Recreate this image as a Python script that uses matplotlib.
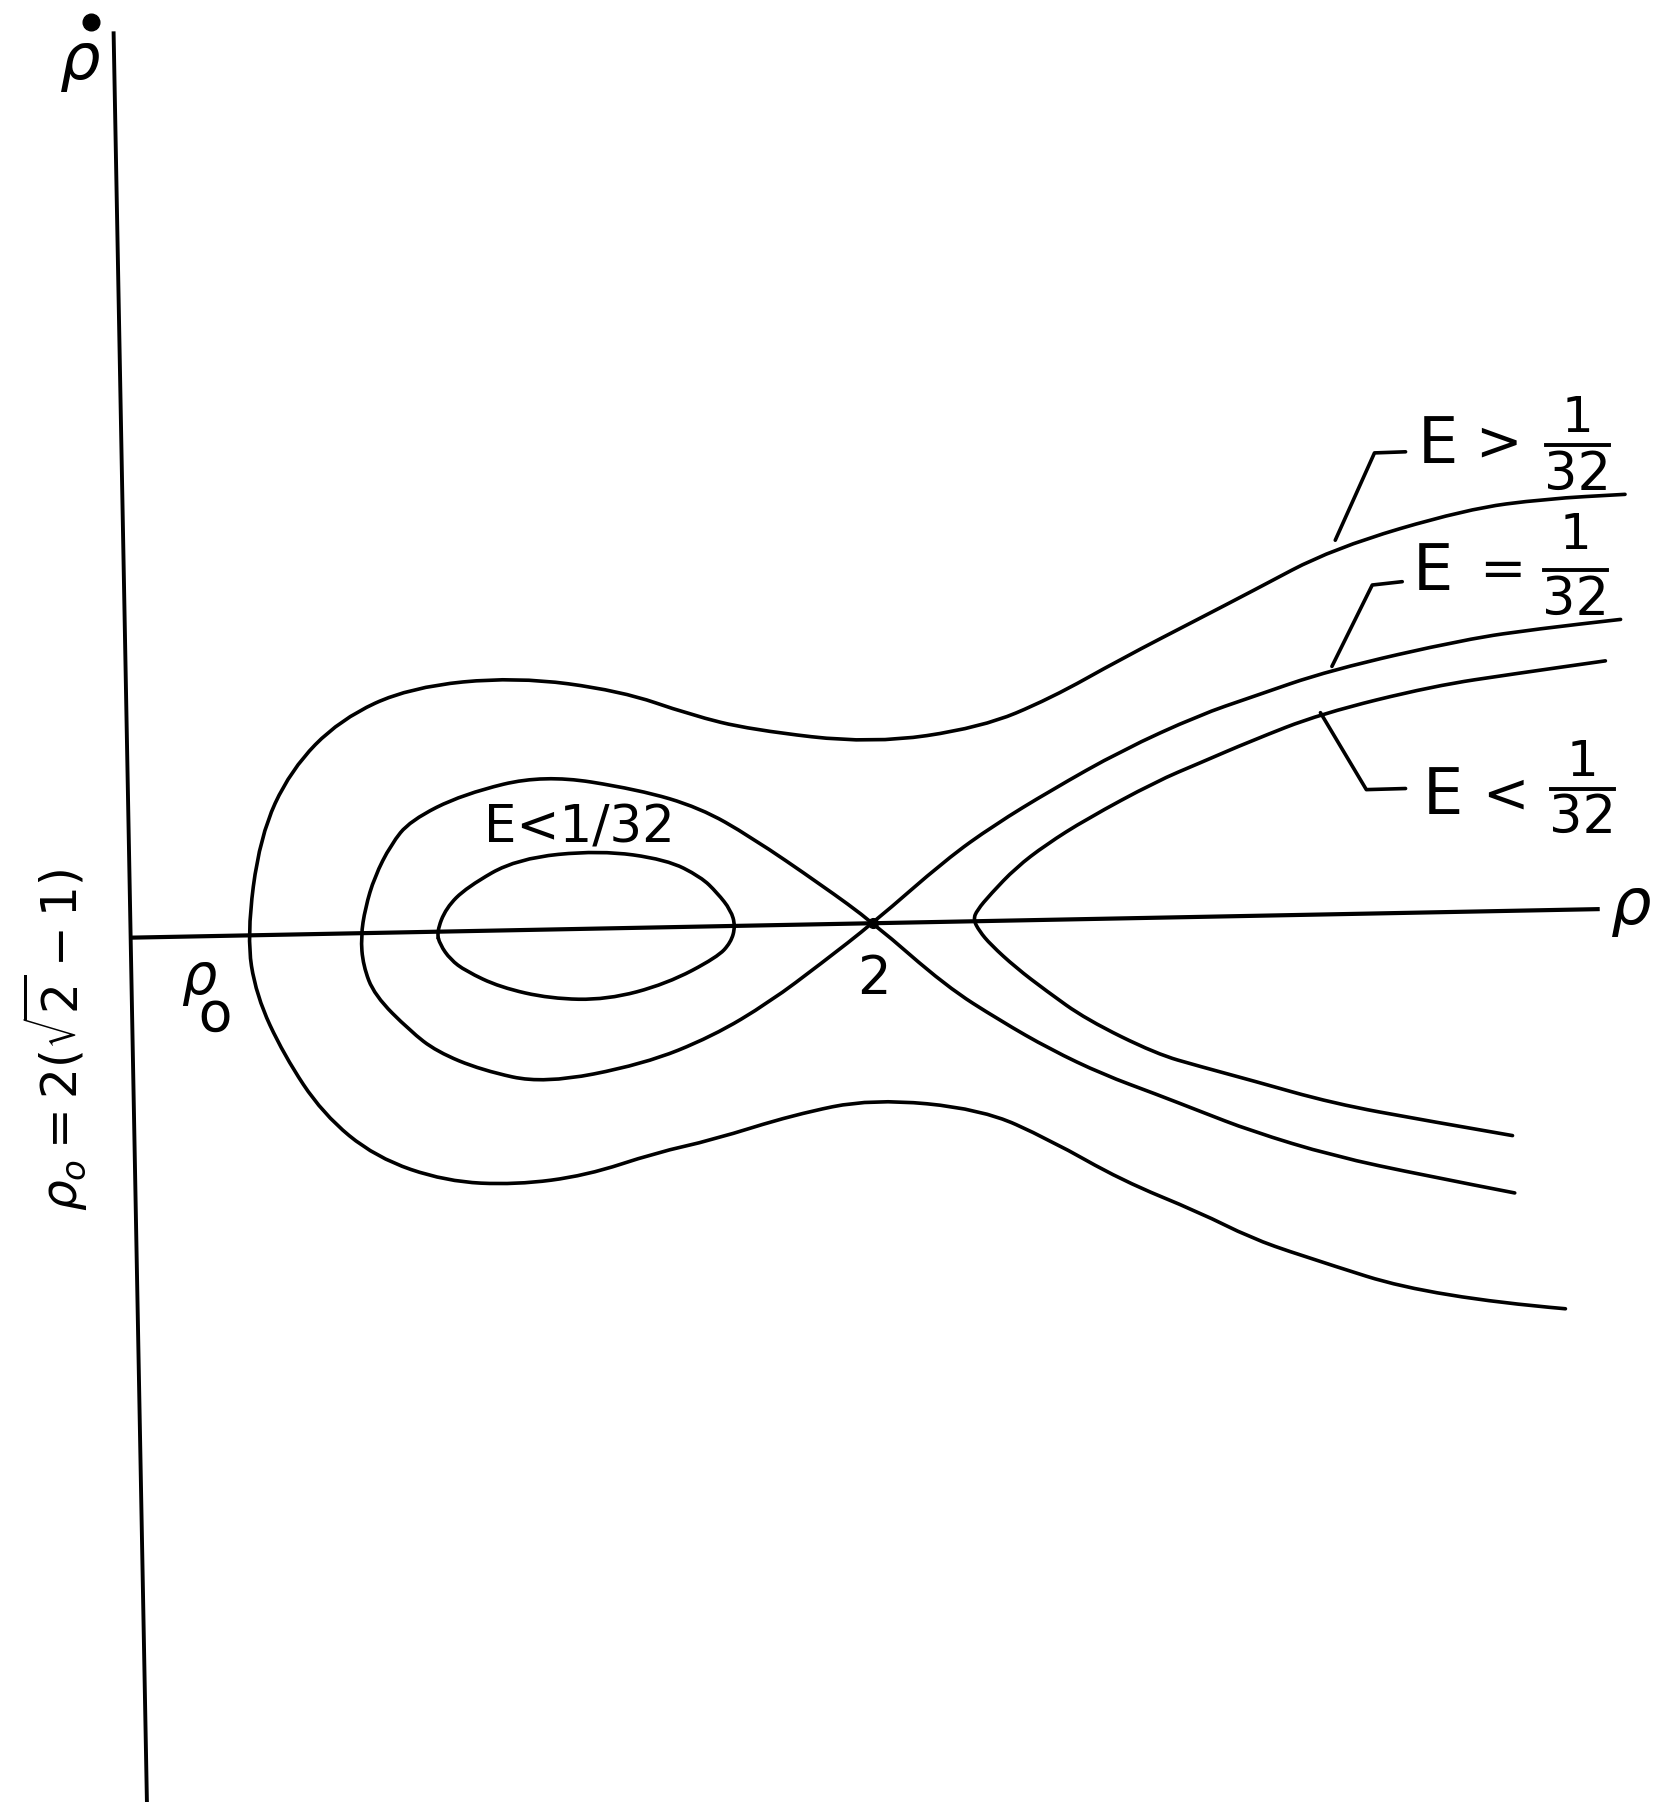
import matplotlib
matplotlib.use('Agg')
import matplotlib.pyplot as plt
from matplotlib.path import Path
from matplotlib.patches import PathPatch

# units: rho = 2 at the saddle point, rho_dot = 0 along the rho axis

# hand drawn axes (slightly tilted, as in the sketch)
vaxis_rho = [-0.053, 0.037]
vaxis_rhodot = [2.404, -2.376]
haxis_rho = [-0.003, 3.957]
haxis_rhodot = [-0.040, 0.037]

# E > 1/32 : open trajectory around everything
outer_rho = [4.031, 3.817, 3.602, 3.242, 3.019, 2.882, 2.671, 2.478, 2.292, 1.997,
             1.668, 1.506, 1.317, 1.034, 0.748, 0.559, 0.425, 0.342, 0.307, 0.332,
             0.407, 0.512, 0.655, 0.845, 1.034, 1.224, 1.413, 1.565, 1.783, 1.997,
             2.292, 2.478, 2.671, 2.882, 3.019, 3.152, 3.512, 3.870]
outer_rhodot = [1.158, 1.146, 1.118, 1.012, 0.894, 0.823, 0.714, 0.606, 0.528, 0.484,
                0.522, 0.562, 0.627, 0.665, 0.637, 0.550, 0.413, 0.233, -0.037, -0.196,
                -0.357, -0.516, -0.634, -0.699, -0.708, -0.683, -0.621, -0.587, -0.519, -0.475,
                -0.503, -0.587, -0.696, -0.783, -0.851, -0.898, -1.012, -1.043]

# E = 1/32 : separatrix through rho = 2
sep_rho = [4.019, 3.801, 3.602, 3.233, 3.019, 2.882, 2.671, 2.478, 2.326, 2.196,
           2.000, 1.860, 1.720, 1.565, 1.379, 1.109, 0.941, 0.820, 0.748, 0.652,
           0.621, 0.615, 0.627, 0.652, 0.696, 0.748, 0.891, 1.109, 1.366, 1.531,
           1.668, 1.860, 2.000, 2.196, 2.342, 2.478, 2.621, 2.764, 2.882, 3.019,
           3.242, 3.491, 3.733]
sep_rhodot = [0.820, 0.795, 0.767, 0.683, 0.609, 0.562, 0.466, 0.357, 0.264, 0.171,
              0.000, -0.109, -0.214, -0.307, -0.382, -0.435, -0.398, -0.348, -0.292, -0.196,
              -0.115, -0.037, 0.040, 0.124, 0.211, 0.276, 0.348, 0.401, 0.360, 0.311,
              0.233, 0.102, 0.000, -0.171, -0.264, -0.342, -0.410, -0.463, -0.509, -0.562,
              -0.630, -0.683, -0.730]

# E < 1/32 : closed orbit inside the well
inner_rho = [0.820, 0.845, 0.901, 1.037, 1.261, 1.441, 1.534, 1.578, 1.615, 1.627,
             1.615, 1.578, 1.441, 1.280, 1.127, 0.991, 0.898, 0.857, 0.829, 0.820]
inner_rhodot = [-0.025, 0.040, 0.096, 0.174, 0.196, 0.171, 0.124, 0.081, 0.034, -0.009,
                -0.053, -0.093, -0.165, -0.208, -0.205, -0.174, -0.130, -0.099, -0.059, -0.025]

# E < 1/32 : open orbit to the right of the saddle
right_rho = [3.978, 3.739, 3.512, 3.208, 3.019, 2.882, 2.764, 2.575, 2.466, 2.385,
             2.317, 2.280, 2.270, 2.286, 2.317, 2.385, 2.466, 2.575, 2.764, 2.882,
             3.019, 3.242, 3.491, 3.727]
right_rhodot = [0.708, 0.674, 0.640, 0.565, 0.491, 0.432, 0.382, 0.280, 0.211, 0.149,
                0.078, 0.034, 0.009, -0.022, -0.059, -0.121, -0.183, -0.261, -0.354, -0.388,
                -0.425, -0.488, -0.534, -0.575]

saddle_rho = [2.0]
saddle_rhodot = [0.0]

# leader lines of the right hand labels
lead_gt_rho = [3.248, 3.354, 3.438]
lead_gt_rhodot = [1.034, 1.270, 1.273]
lead_eq_rho = [3.239, 3.348, 3.429]
lead_eq_rhodot = [0.693, 0.913, 0.922]
lead_lt_rho = [3.208, 3.332, 3.438]
lead_lt_rhodot = [0.568, 0.360, 0.363]

LW = 2.6
kw = dict(color='black', lw=LW, solid_capstyle='round', solid_joinstyle='round')


def smooth_curve(ax, xs, ys, closed=False):
    # quadratic bezier through the midpoints, the read points act as controls
    pts = list(zip(xs, ys))
    mid = lambda a, b: ((a[0] + b[0]) / 2, (a[1] + b[1]) / 2)
    if closed:
        pts = pts[:-1]
        n = len(pts)
        verts = [mid(pts[-1], pts[0])]
        codes = [Path.MOVETO]
        for i in range(n):
            verts += [pts[i], mid(pts[i], pts[(i + 1) % n])]
            codes += [Path.CURVE3, Path.CURVE3]
    else:
        verts = [pts[0], mid(pts[0], pts[1])]
        codes = [Path.MOVETO, Path.LINETO]
        for i in range(1, len(pts) - 1):
            nxt = pts[i + 1] if i == len(pts) - 2 else mid(pts[i], pts[i + 1])
            verts += [pts[i], nxt]
            codes += [Path.CURVE3, Path.CURVE3]
    ax.add_patch(PathPatch(Path(verts, codes), fill=False, edgecolor='black',
                           lw=LW, capstyle='round', joinstyle='round'))


fig = plt.figure(figsize=(16.55, 18.02), dpi=100)
ax = fig.add_axes([0, 0, 1, 1])
ax.set_xlim(-0.360, 4.112)
ax.set_ylim(-2.376, 2.494)
ax.axis('off')

ax.plot(vaxis_rho, vaxis_rhodot, color='black', lw=2.8)
ax.plot(haxis_rho, haxis_rhodot, color='black', lw=3.0)

smooth_curve(ax, outer_rho, outer_rhodot)
smooth_curve(ax, sep_rho, sep_rhodot)
smooth_curve(ax, inner_rho, inner_rhodot, closed=True)
smooth_curve(ax, right_rho, right_rhodot)
ax.plot(saddle_rho, saddle_rhodot, 'o', color='black', ms=7)

for xs, ys in [(lead_gt_rho, lead_gt_rhodot), (lead_eq_rho, lead_eq_rhodot),
               (lead_lt_rho, lead_lt_rhodot)]:
    ax.plot(xs, ys, **kw)

# axis labels
ax.text(-0.143, 2.325, r'$\rho$', fontsize=46, ha='center', va='center')
ax.plot([-0.115], [2.435], 'o', color='black', ms=12)
ax.text(4.047, 0.040, r'$\rho$', fontsize=46, ha='center', va='center')
ax.text(0.200, -0.205, r'$\rho$' + '\n' + ' o', fontsize=40, ha='center',
        va='center', linespacing=0.55, multialignment='left')
ax.text(2.000, -0.152, '2', fontsize=38, ha='center', va='center')
ax.text(-0.211, -0.317, r'$\rho_o = 2(\sqrt{2}-1)$', fontsize=35,
        ha='center', va='center', rotation=90)

# energy labels
ax.text(1.205, 0.255, 'E<1/32', fontsize=37, ha='center', va='center')

fracs = [
    # (E x, E y, sign, sign x, one y, bar y, thirty-two y, fraction x)
    (3.525, 1.292, '>', 3.689, 1.363, 1.292, 1.211, 3.903),
    (3.512, 0.947, '=', 3.699, 1.047, 0.953, 0.873, 3.896),
    (3.540, 0.342, '<', 3.708, 0.435, 0.363, 0.283, 3.915),
]
for ex, ey, sign, sx, oy, by, ty, fx in fracs:
    ax.text(ex, ey, 'E', fontsize=46, ha='center', va='center')
    ax.text(sx, ey, sign, fontsize=40, ha='center', va='center')
    ax.text(fx, oy, '1', fontsize=36, ha='center', va='center')
    ax.plot([fx - 0.085, fx + 0.085], [by, by], color='black', lw=2.8)
    ax.text(fx, ty, '32', fontsize=38, ha='center', va='center')

fig.savefig('out.png', dpi=100, facecolor='white')
